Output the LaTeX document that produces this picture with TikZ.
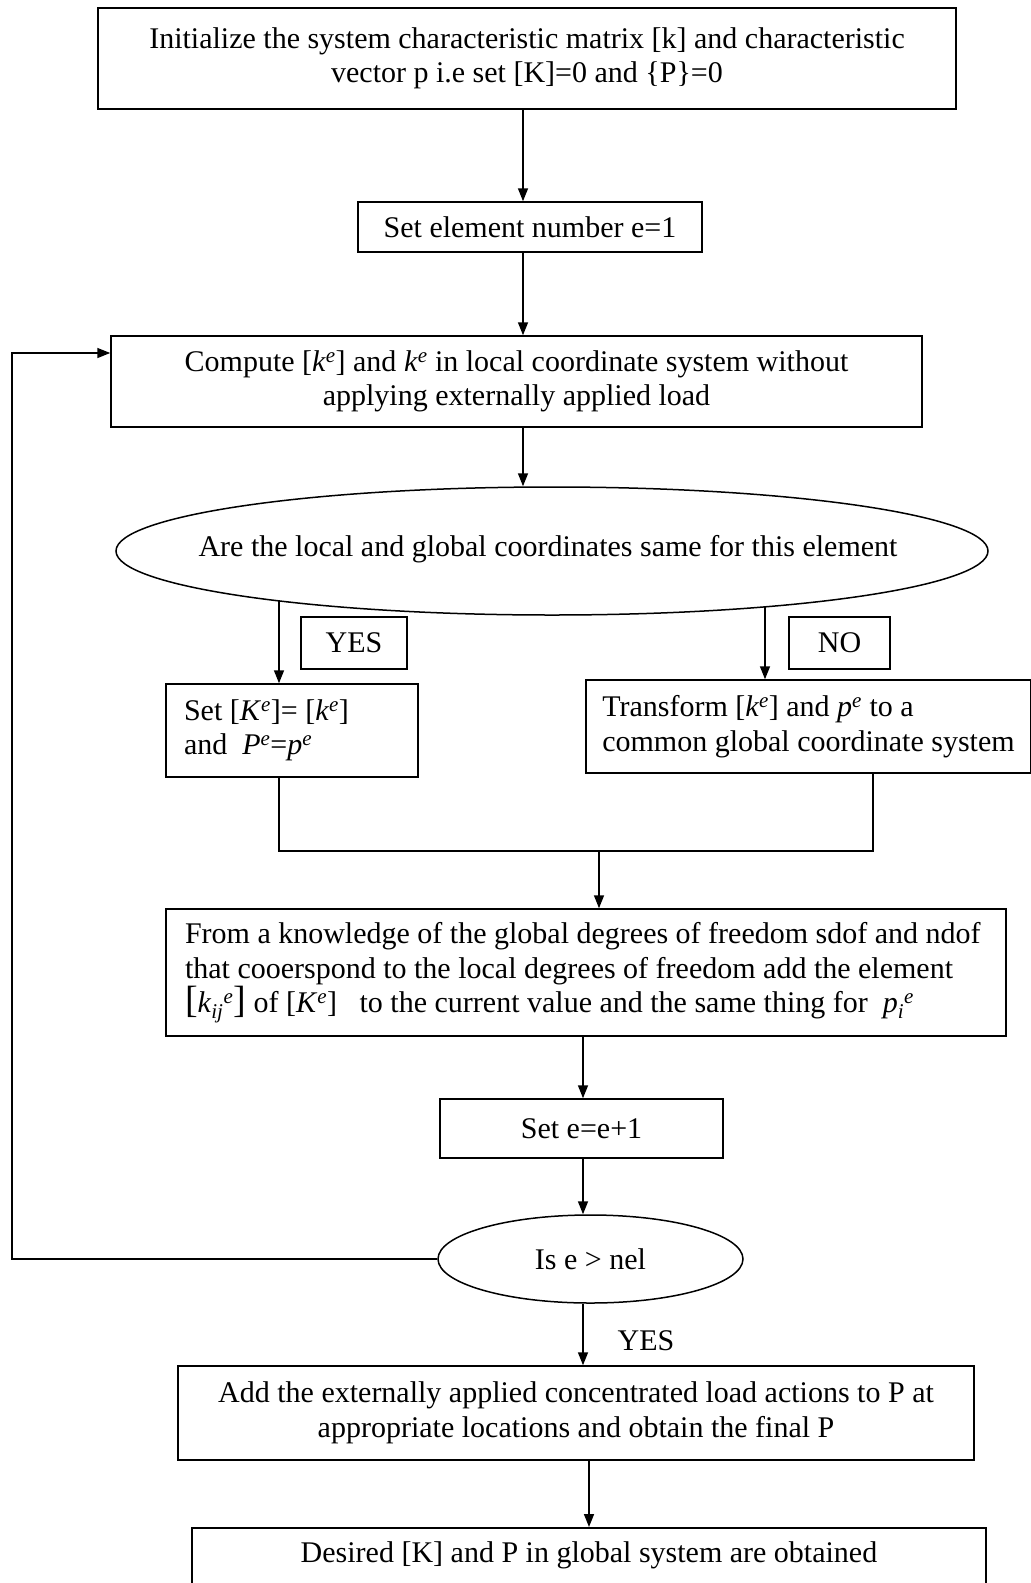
\documentclass[tikz,border=0pt]{standalone}
\usepackage{fontspec}
\setmainfont{Liberation Serif}
\usetikzlibrary{arrows.meta,shapes.geometric}
\newcommand\mI[1]{\textit{#1}}
\newcommand\upE[1]{\textsuperscript{\textit{#1}}}
\newcommand\dnI[1]{\textsubscript{\textit{#1}}}
\newcommand\bigBr[1]{{\fontsize{38}{34.5}\selectfont #1}}
\begin{document}
\begin{tikzpicture}[x=1pt,y=-1pt, line width=1.5pt,
  box/.style={draw, rectangle, inner sep=0pt, font=\fontsize{30}{34.5}\selectfont, align=center},
  oval/.style={draw, ellipse, inner sep=0pt, font=\fontsize{30}{34.5}\selectfont},
  lbl/.style={font=\fontsize{30}{34.5}\selectfont},
  arr/.style={-{Triangle[length=13pt,width=10pt]}}]
\useasboundingbox (0,0) rectangle (1031,1583);

\node[box, minimum width=858pt, minimum height=101pt] (B1) at (527,58.5)
  {Initialize the system characteristic matrix [k] and characteristic\\ vector p i.e set [K]=0 and \{P\}=0};
\node[box, minimum width=344pt, minimum height=50pt] (B2) at (530,227) {Set element number e=1};
\node[box, minimum width=811pt, minimum height=91pt] (B3) at (516.5,381.5)
  {Compute [\mI{k}\upE{e}] and \mI{k}\upE{e} in local coordinate system without\\ applying externally applied load};
\node[oval, minimum width=872pt, minimum height=128pt] (E1) at (552,551) {};
\node[lbl] (E1t) at (548,549) {Are the local and global coordinates same for this element};
\node[box, minimum width=106pt, minimum height=52pt] (YES) at (354,643) {YES};
\node[box, minimum width=101pt, minimum height=52pt] (NO) at (839.5,643) {NO};
\node[box, minimum width=252pt, minimum height=93pt, text width=216pt, align=flush left, inner xsep=18pt] (S) at (292,730.5)
  {Set [\mI{K}\upE{e}]= [\mI{k}\upE{e}]\\and \ \mI{P}\upE{e}=\mI{p}\upE{e}};
\node[box, minimum width=445pt, minimum height=93pt, align=left] (T) at (808.5,726.5)
  {Transform [\mI{k}\upE{e}] and \mI{p}\upE{e} to a\\common global coordinate system};
\node[box, minimum width=840pt, minimum height=127pt, text width=802pt, align=flush left, inner xsep=19pt] (FK) at (586,972.5)
  {From a knowledge of the global degrees of freedom sdof and ndof\\that cooerspond to the local degrees of freedom add the element\\\bigBr{[}\mI{k}\dnI{ij}\upE{e}\bigBr{]} of [\mI{K}\upE{e}] \ \ to the current value and the same thing for \ \mI{p}\dnI{i}\upE{e}};
\node[box, minimum width=283pt, minimum height=59pt] (B5) at (581.5,1128.5) {Set e=e+1};
\node[oval, minimum width=305pt, minimum height=88pt] (E2) at (590.5,1259) {Is e > nel};
\node[lbl] (Y2) at (646,1341) {YES};
\node[box, minimum width=796pt, minimum height=94pt] (A) at (576,1413)
  {Add the externally applied concentrated load actions to P at\\appropriate locations and obtain the final P};
\node[box, anchor=north, minimum width=794pt, text height=20pt, text depth=70pt, inner ysep=15pt] (F) at (589,1527)
  {Desired [K] and P in global system are obtained};

\coordinate (c1) at (523,0);
\coordinate (c2) at (583,0);
\coordinate (c3) at (589,0);
\coordinate (yl) at (279,601);
\coordinate (yr) at (765,606);
\coordinate (m) at (599,851);
\coordinate (mr) at (873,0);
\coordinate (lc) at (12,1259);
\coordinate (lt) at (12,353);

\draw[arr] (B1.south -| c1) -- (B2.north -| c1);
\draw[arr] (B2.south -| c1) -- (B3.north -| c1);
\draw[arr] (B3.south -| c1) -- (E1.north -| c1);
\draw[arr] (yl) -- (S.north -| yl);
\draw[arr] (yr) -- (T.north -| yr);
\draw (S.south -| yl) |- (mr |- m) -- (T.south -| mr);
\draw[arr] (m) -- (FK.north -| m);
\draw[arr] (FK.south -| c2) -- (B5.north -| c2);
\draw[arr] (B5.south -| c2) -- (E2.north -| c2);
\draw[arr] (E2.south -| c2) -- (A.north -| c2);
\draw[arr] (A.south -| c3) -- (F.north -| c3);
\draw[arr] (E2.west) -- (lc) -- (lt) -- (B3.west |- lt);
\end{tikzpicture}
\end{document}
